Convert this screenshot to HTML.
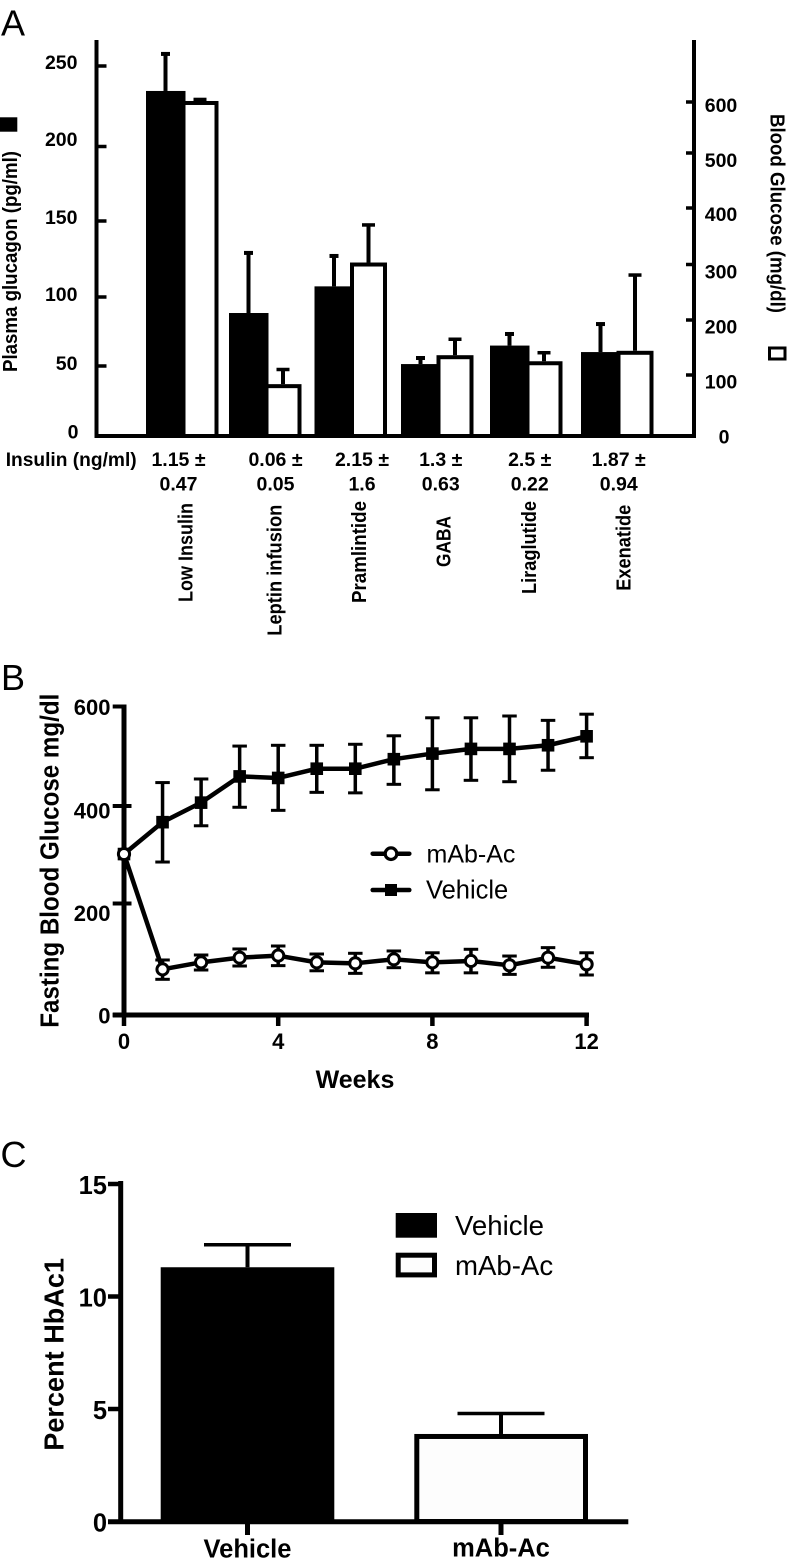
<!DOCTYPE html>
<html lang="en">
<head>
<meta charset="utf-8">
<title>Glucagon, glucose and HbA1c panels</title>
<style>
html,body{margin:0;padding:0;background:#fff;}
svg{display:block;}
text{font-family:"Liberation Sans",sans-serif;fill:#000;}
.b{font-weight:bold;}
</style>
</head>
<body>
<svg id="figure" xmlns="http://www.w3.org/2000/svg" width="789" height="1559" viewBox="0 0 789 1559">
  <rect x="0" y="0" width="789" height="1559" fill="#fff"/>

  <g id="panel-a">
    <text x="1" y="35.7" font-size="36">A</text>
    <text class="b" transform="rotate(-90 17 372)" x="17" y="372" font-size="20" textLength="221" lengthAdjust="spacingAndGlyphs">Plasma glucagon (pg/ml)</text>
    <rect x="0" y="117.3" width="17.3" height="14.4" fill="#000"/>
    <text class="b" transform="rotate(90 770.7 114)" x="770.7" y="114" font-size="20" textLength="199" lengthAdjust="spacingAndGlyphs">Blood Glucose (mg/dl)</text>
    <rect x="769.5" y="348" width="15.5" height="11" fill="#fff" stroke="#000" stroke-width="3"/>
    <text class="b" x="5.7" y="466" font-size="19.5" textLength="131" lengthAdjust="spacingAndGlyphs">Insulin (ng/ml)</text>
    <line x1="96.5" y1="40" x2="96.5" y2="438" stroke="#000" stroke-width="4"/>
    <line x1="694" y1="40" x2="694" y2="438" stroke="#000" stroke-width="4"/>
  </g>

  <g id="panel-b">
    <text x="1" y="690" font-size="36">B</text>
    <text class="b" transform="rotate(-90 58.3 1027.7)" x="58.3" y="1027.7" font-size="25.5" textLength="334" lengthAdjust="spacingAndGlyphs">Fasting Blood Glucose mg/dl</text>
    <text class="b" x="355" y="1088" font-size="25" text-anchor="middle">Weeks</text>
    <line x1="124" y1="704.5" x2="124" y2="1017" stroke="#000" stroke-width="5"/>
    <line x1="112.7" y1="1015" x2="589" y2="1015" stroke="#000" stroke-width="5"/>
    <g>
      <line x1="372.7" y1="853.7" x2="409.3" y2="853.7" stroke="#000" stroke-width="4.5" stroke-linecap="round"/>
      <circle cx="391" cy="853.7" r="5.8" fill="#fff" stroke="#000" stroke-width="3.2"/>
      <text x="426.5" y="862.7" font-size="25">mAb-Ac</text>
    </g>
    <g>
      <line x1="372.7" y1="890" x2="409.3" y2="890" stroke="#000" stroke-width="4.5" stroke-linecap="round"/>
      <rect x="385" y="884" width="12" height="12" fill="#000"/>
      <text x="426" y="898.3" font-size="25.5">Vehicle</text>
    </g>
  </g>

  <g id="panel-c">
    <text x="0.5" y="1167" font-size="36">C</text>
    <text class="b" transform="rotate(-90 63.3 1450.7)" x="63.3" y="1450.7" font-size="28" textLength="192.7" lengthAdjust="spacingAndGlyphs">Percent HbAc1</text>
    <line x1="120.7" y1="1181" x2="120.7" y2="1523" stroke="#000" stroke-width="5"/>
    <g>
      <rect x="395.7" y="1213" width="41.3" height="24.7" fill="#000"/>
      <text x="455" y="1235" font-size="27.6">Vehicle</text>
    </g>
    <g>
      <rect x="398.2" y="1255.2" width="36.3" height="19.7" fill="#fdfdfd" stroke="#000" stroke-width="5"/>
      <text x="455" y="1275" font-size="27.6">mAb-Ac</text>
    </g>
  </g>
</svg>

<script>
// ---------- Panel A data ----------
const treatments = ["Low Insulin", "Leptin infusion", "Pramlintide", "GABA", "Liraglutide", "Exenatide"];
const insulinMeans = ["1.15 ±", "0.06 ±", "2.15 ±", "1.3 ±", "2.5 ±", "1.87 ±"];
const insulinErrors = ["0.47", "0.05", "1.6", "0.63", "0.22", "0.94"];
const glucagonMeans = [234.5, 88.4, 107, 51.4, 64.8, 60.1];
const glucagonUpper = [257.5, 129, 127, 55.8, 73.2, 80.4];
const glucoseMeans = [602, 85, 303.5, 136, 125, 144];
const glucoseUpper = [605, 110, 370, 165, 140.5, 281];
const glucagonTicks = [0, 50, 100, 150, 200, 250];
const glucoseTicks = [0, 100, 200, 300, 400, 500, 600];

// ---------- Panel B data ----------
const weeks = [0, 1, 2, 3, 4, 5, 6, 7, 8, 9, 10, 11, 12];
const vehicleMeans = [313, 375, 413, 464, 461, 479, 479, 497.5, 508.4, 517.5, 517.5, 524.6, 542];
const vehicleUpper = [313, 452, 459, 523, 524.5, 524.5, 526.5, 543, 578, 578, 581.5, 573, 585];
const vehicleLower = [313, 297.5, 368, 404, 398, 433, 432, 448.6, 438, 456.4, 453.7, 476, 500.4];
const mabMeans = [313, 88.8, 102.4, 111.5, 115.4, 102.4, 100.5, 108.3, 102.4, 105, 96.6, 111.5, 98.6];
const mabUpper = [313, 107, 116.7, 128.4, 134.2, 118.6, 120, 124.5, 121, 127.8, 114.7, 131, 121];
const mabLower = [313, 69.4, 87.5, 95.3, 96, 86, 81, 92, 82, 82, 79, 92.8, 77.8];
const fastingTicks = [0, 200, 400, 600];
const weekTicks = [0, 4, 8, 12];

// ---------- Panel C data ----------
const hba1cGroups = ["Vehicle", "mAb-Ac"];
const hba1cMeans = [11.3, 3.89];
const hba1cUpper = [12.3, 4.8];
const hba1cTicks = [0, 5, 10, 15];

// ---------- Helpers ----------
const NS = "http://www.w3.org/2000/svg";
function make(tag, attrs, parent, text) {
  const node = document.createElementNS(NS, tag);
  for (const k in attrs) node.setAttribute(k, attrs[k]);
  if (text !== undefined) node.textContent = text;
  parent.appendChild(node);
  return node;
}
function piecewise(domain, range) {
  return function (v) {
    let i = 0;
    while (i < domain.length - 2 && v > domain[i + 1]) i++;
    const t = (v - domain[i]) / (domain[i + 1] - domain[i]);
    return range[i] + t * (range[i + 1] - range[i]);
  };
}
function errorMark(parent, name, x, yFrom, yTo, capW, stemW, capH) {
  const g = make("g", {}, parent);
  
  
  const stem = make("line", { x1: x, x2: x, y1: yFrom, y2: yTo, stroke: "#000", "stroke-width": stemW }, g);
  
  
  const cap = make("line", { x1: x - capW / 2, x2: x + capW / 2, y1: yTo, y2: yTo, stroke: "#000", "stroke-width": capH }, g);
  
  
  return g;
}

// ---------- Panel A ----------
(function drawPanelA() {
  const root = document.getElementById("panel-a");
  // The source axes are hand-assembled and not perfectly even, so the scales are piecewise.
  const yGlucagon = piecewise(glucagonTicks, [436, 366, 297, 221, 146.5, 66]);
  const yGlucose = piecewise(glucoseTicks, [436, 375, 320, 264.5, 208, 153, 102]);
  const yGlucagonLabel = piecewise(glucagonTicks, [438.7, 370, 301, 224, 146, 69]);
  const yGlucoseLabel = piecewise(glucoseTicks, [443.7, 388.7, 333.7, 278.7, 221, 167, 112]);
  const groupLeft = i => [146, 229, 314.5, 401, 490, 581][i];
  const blackW = 39.5, whiteInner = 29, whiteStroke = 4, baseY = 436;

  treatments.forEach(function (name, i) {
    const L = groupLeft(i);
    const blackTop = yGlucagon(glucagonMeans[i]);
    const whiteTop = yGlucose(glucoseMeans[i]);

    const gErr = errorMark(root, "glucagon-error-" + i, L + 19.5, blackTop, yGlucagon(glucagonUpper[i]), 9, 4, 4);
    const bar = make("rect", { x: L, y: blackTop, width: blackW, height: baseY - blackTop, fill: "#000" }, root);
    
    

    const wErr = errorMark(root, "glucose-error-" + i, L + 54, whiteTop, yGlucose(glucoseUpper[i]), 13, 4, 3.5);
    const wbar = make("rect", {
      x: L + blackW - whiteStroke / 2,
      y: whiteTop + whiteStroke / 2,
      width: whiteInner + whiteStroke,
      height: baseY - whiteTop - whiteStroke / 2,
      fill: "#fff", stroke: "#000", "stroke-width": whiteStroke
    }, root);
    
    
  });

  const base = make("line", { x1: 94.5, x2: 696, y1: baseY, y2: baseY, stroke: "#000", "stroke-width": 4 }, root);
  
  

  glucagonTicks.forEach(function (v) {
    if (v > 0) {
      const t = make("line", { x1: 97, x2: 106.5, y1: yGlucagon(v), y2: yGlucagon(v), stroke: "#000", "stroke-width": 3.5 }, root);
      
      
    }
    const lab = make("text", { class: "b", x: v === 0 ? 78.5 : 77.5, y: yGlucagonLabel(v), "font-size": 19.5, "text-anchor": "end" }, root, String(v));
    
    
  });

  glucoseTicks.forEach(function (v) {
    if (v > 0) {
      const t = make("line", { x1: 686, x2: 694, y1: yGlucose(v), y2: yGlucose(v), stroke: "#000", "stroke-width": 3.5 }, root);
      
      
    }
    const lab = make("text", { class: "b", x: v === 0 ? 724 : 721, y: yGlucoseLabel(v), "font-size": 19.5, "text-anchor": "middle" }, root, String(v));
    
    
  });

  const insulinX = i => [178.5, 275.5, 362, 440.7, 529.7, 618.7][i];
  const treatX = i => [192.7, 281.7, 366, 450.3, 536, 630.7][i];
  const treatY = i => [602, 635.7, 603, 567, 594, 590.7][i];
  const treatLen = i => [99, 131, 102, 51, 93, 86][i];
  treatments.forEach(function (name, i) {
    const a = make("text", { class: "b", x: insulinX(i), y: 466, "font-size": 19.5, "text-anchor": "middle" }, root, insulinMeans[i]);
    
    
    const b = make("text", { class: "b", x: insulinX(i), y: 490.7, "font-size": 19.5, "text-anchor": "middle" }, root, insulinErrors[i]);
    
    
    const c = make("text", {
      class: "b", x: treatX(i), y: treatY(i), "font-size": 20.5,
      transform: "rotate(-90 " + treatX(i) + " " + treatY(i) + ")",
      textLength: treatLen(i), lengthAdjust: "spacingAndGlyphs"
    }, root, name);
    
    
  });
})();

// ---------- Panel B ----------
(function drawPanelB() {
  const root = document.getElementById("panel-b");
  const x = w => 124 + w * 38.55;
  const y = v => 1015 - v * 0.5142;
  const yTick = piecewise(fastingTicks, [1015, 903.5, 806, 706.5]);
  const yLabel = piecewise(fastingTicks, [1023.5, 921, 818.5, 715]);

  fastingTicks.forEach(function (v) {
    const t = make("line", { x1: 112.7, x2: (v === 200 || v === 400) ? 131.5 : 124, y1: yTick(v), y2: yTick(v), stroke: "#000", "stroke-width": 4 }, root);
    
    
    const lab = make("text", { class: "b", x: 110.5, y: yLabel(v), "font-size": 22, "text-anchor": "end" }, root, String(v));
    
    
  });
  weekTicks.forEach(function (w) {
    const t = make("line", { x1: x(w), x2: x(w), y1: 1015, y2: 1026, stroke: "#000", "stroke-width": 4.5 }, root);
    
    
    const lab = make("text", { class: "b", x: x(w), y: 1049, "font-size": 22, "text-anchor": "middle" }, root, String(w));
    
    
  });

  function linePath(values) {
    return values.map((v, i) => (i ? "L" : "M") + x(weeks[i]) + " " + y(v)).join(" ");
  }
  function errorPair(name, i, upper, lower, capW) {
    const px = x(weeks[i]);
    const g = make("g", {}, root);
    
    
    const stem = make("line", { x1: px, x2: px, y1: y(upper[i]), y2: y(lower[i]), stroke: "#000", "stroke-width": 3.5 }, g);
    
    
    const capU = make("line", { x1: px - capW / 2, x2: px + capW / 2, y1: y(upper[i]), y2: y(upper[i]), stroke: "#000", "stroke-width": 3 }, g);
    
    
    const capL = make("line", { x1: px - capW / 2, x2: px + capW / 2, y1: y(lower[i]), y2: y(lower[i]), stroke: "#000", "stroke-width": 3 }, g);
    
    
  }

  weeks.forEach(function (w, i) {
    if (i > 0) errorPair("vehicle-error", i, vehicleUpper, vehicleLower, 14.5);
  });
  const vLine = make("path", { d: linePath(vehicleMeans), fill: "none", stroke: "#000", "stroke-width": 4.5, "stroke-linejoin": "round" }, root);
  
  
  weeks.forEach(function (w, i) {
    const m = make("rect", { x: x(w) - 6.3, y: y(vehicleMeans[i]) - 6.3, width: 12.6, height: 12.6, fill: "#000" }, root);
    
    
  });

  weeks.forEach(function (w, i) {
    if (i > 0) errorPair("mab-ac-error", i, mabUpper, mabLower, 14.5);
  });
  const mLine = make("path", { d: linePath(mabMeans), fill: "none", stroke: "#000", "stroke-width": 4.5, "stroke-linejoin": "round" }, root);
  
  
  weeks.forEach(function (w, i) {
    const m = make("circle", { cx: x(w), cy: y(mabMeans[i]), r: 5.6, fill: "#fff", stroke: "#000", "stroke-width": 3 }, root);
    
    
  });
})();

// ---------- Panel C ----------
(function drawPanelC() {
  const root = document.getElementById("panel-c");
  const y = v => 1521.5 - v * 22.5;
  const barLeft = i => [160.7, 414.3][i];
  const barRight = i => [334.3, 588][i];
  const center = i => [247.5, 501][i];
  const labelBase = i => [1557.5, 1556.7][i];

  hba1cGroups.forEach(function (name, i) {
    const top = y(hba1cMeans[i]);
    const err = errorMark(root, "hba1c-error-" + i, center(i), top, y(hba1cUpper[i]), 87, 4, 3.5);
    let bar;
    if (i === 0) {
      bar = make("rect", { x: barLeft(i), y: top, width: barRight(i) - barLeft(i), height: 1521.5 - top, fill: "#000" }, root);
    } else {
      bar = make("rect", { x: barLeft(i) + 2.5, y: top + 2.5, width: barRight(i) - barLeft(i) - 5, height: 1521.5 - top - 2.5, fill: "#fdfdfd", stroke: "#000", "stroke-width": 5 }, root);
    }
    
    
    const tick = make("line", { x1: center(i), x2: center(i), y1: 1521.5, y2: 1535, stroke: "#000", "stroke-width": 5 }, root);
    
    
    const lab = make("text", { class: "b", x: center(i), y: labelBase(i), "font-size": 25.5, "text-anchor": "middle" }, root, name);
    
    
  });

  const base = make("line", { x1: 108, x2: 628.3, y1: 1521.8, y2: 1521.8, stroke: "#000", "stroke-width": 5 }, root);
  
  

  hba1cTicks.forEach(function (v) {
    if (v > 0) {
      const t = make("line", { x1: 108, x2: 121, y1: y(v), y2: y(v), stroke: "#000", "stroke-width": 4.5 }, root);
      
      
    }
    const lab = make("text", { class: "b", x: 107, y: y(v) + 10, "font-size": 25.5, "text-anchor": "end" }, root, String(v));
    
    
  });
})();
</script>
</body>
</html>
